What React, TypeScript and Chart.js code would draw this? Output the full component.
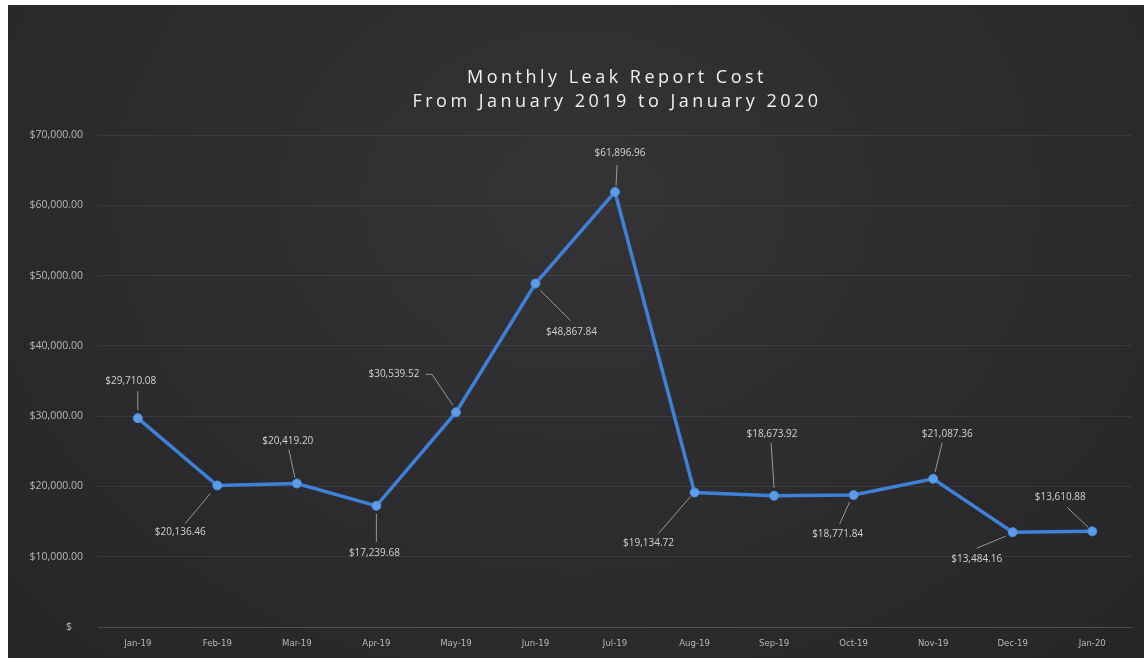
import React, { useEffect, useRef } from "react";
import { Chart, registerables } from "chart.js";

Chart.register(...registerables);

const categories = [
  "Jan-19", "Feb-19", "Mar-19", "Apr-19", "May-19", "Jun-19", "Jul-19",
  "Aug-19", "Sep-19", "Oct-19", "Nov-19", "Dec-19", "Jan-20",
];
const costs = [
  29710.08, 20136.46, 20419.2, 17239.68, 30539.52, 48867.84, 61896.96,
  19134.72, 18673.92, 18771.84, 21087.36, 13484.16, 13610.88,
];
const yMin = 0;
const yMax = 70000;
const yStep = 10000;
const titleLines = ["Monthly Leak Report Cost", "From January 2019 to January 2020"];

// layout of each data label: text centre offset and leader-line path, relative to the point
const labelLayout: { dx: number; dy: number; path: number[][] }[] = [
  { dx: -7, dy: -37, path: [[0, -8], [0, -27]] },
  { dx: -37, dy: 47, path: [[-7, 8], [-32, 38]] },
  { dx: -9, dy: -42, path: [[-2, -6], [-8, -34]] },
  { dx: -2, dy: 47, path: [[0, 8], [0, 36]] },
  { dx: -62, dy: -38, path: [[-3, -7], [-24, -38], [-30, -38]] },
  { dx: 36, dy: 49, path: [[5, 7], [35, 37]] },
  { dx: 5, dy: -39, path: [[1, -6], [2, -27]] },
  { dx: -46, dy: 51, path: [[-4, 4], [-36, 41]] },
  { dx: -2, dy: -62, path: [[0, -8], [-3, -53]] },
  { dx: -16, dy: 39, path: [[-4, 7], [-14, 29]] },
  { dx: 14, dy: -45, path: [[2, -7], [9, -36]] },
  { dx: -36, dy: 27, path: [[-7, 4], [-36, 16]] },
  { dx: -32, dy: -34, path: [[-4, -4], [-25, -24]] },
];

const money = (v: number) =>
  "$" + v.toLocaleString("en-US", { minimumFractionDigits: 2, maximumFractionDigits: 2 });

const labelPlugin = {
  id: "leaderLabels",
  afterDatasetsDraw(chart: any) {
    const ctx = chart.ctx;
    const meta = chart.getDatasetMeta(0);
    ctx.save();
    meta.data.forEach((pt: any, i: number) => {
      const lay = labelLayout[i];
      if (!lay) return;
      const x = pt.x;
      const y = pt.y;
      ctx.strokeStyle = "rgba(190,190,190,0.75)";
      ctx.lineWidth = 1;
      ctx.beginPath();
      lay.path.forEach((p, k) => {
        if (k === 0) ctx.moveTo(x + p[0], y + p[1]);
        else ctx.lineTo(x + p[0], y + p[1]);
      });
      ctx.stroke();
      ctx.fillStyle = "#d2d2d2";
      ctx.font = '10px "Open Sans", sans-serif';
      ctx.textAlign = "center";
      ctx.textBaseline = "middle";
      ctx.fillText(money(costs[i]), x + lay.dx, y + lay.dy);
    });
    ctx.restore();
  },
};

const titlePlugin = {
  id: "spacedTitle",
  afterDraw(chart: any) {
    const ctx = chart.ctx;
    const area = chart.chartArea;
    const cx = (area.left + area.right) / 2;
    ctx.save();
    ctx.fillStyle = "#f0f0f0";
    ctx.font = '18px "Open Sans", sans-serif';
    (ctx as any).letterSpacing = "3.5px";
    ctx.textAlign = "center";
    ctx.textBaseline = "middle";
    titleLines.forEach((t, i) => ctx.fillText(t, cx + 2, 73 + i * 24));
    ctx.restore();
  },
};

export default function App() {
  const ref = useRef<HTMLCanvasElement | null>(null);

  useEffect(() => {
    if (!ref.current) return;
    const chart = new Chart(ref.current, {
      type: "line",
      data: {
        labels: categories,
        datasets: [
          {
            label: "Cost",
            data: costs,
            borderColor: "#3f80d8",
            borderWidth: 3.5,
            pointRadius: 4.5,
            pointBackgroundColor: "#5c9ce8",
            pointBorderColor: "#4a8ee0",
            pointBorderWidth: 1,
            tension: 0,
          },
        ],
      },
      options: {
        animation: false,
        responsive: false,
        maintainAspectRatio: false,
        layout: { padding: { top: 130, right: 12, left: 0, bottom: 0 } },
        plugins: {
          legend: { display: false },
          title: { display: false },
          tooltip: { enabled: false },
        },
        scales: {
          x: {
            offset: true,
            grid: { display: false, drawTicks: false },
            border: { display: true, color: "rgba(255,255,255,0.12)", width: 1 },
            ticks: {
              color: "#b8b8b8",
              padding: 11,
              maxRotation: 0,
              font: { family: '"Liberation Sans Narrow", "DejaVu Sans Condensed", sans-serif', size: 9.5 },
            },
            afterFit: (s: any) => {
              s.height = 31;
            },
          },
          y: {
            min: yMin,
            max: yMax,
            ticks: {
              stepSize: yStep,
              color: "#b8b8b8",
              padding: 15,
              font: { family: '"Open Sans", sans-serif', size: 10.5 },
              callback: (v: any) => (Number(v) === 0 ? "$    " : money(Number(v))),
            },
            grid: { color: "rgba(255,255,255,0.07)", drawTicks: false },
            border: { display: false },
            afterFit: (s: any) => {
              s.width = 90;
            },
          },
        },
      },
      plugins: [labelPlugin, titlePlugin],
    });
    return () => chart.destroy();
  }, []);

  return (
    <div
      style={{
        position: "absolute",
        left: 8,
        top: 5,
        width: 1136,
        height: 653,
        background: "radial-gradient(ellipse at 50% 30%, #343436 0%, #2c2c2e 55%, #262628 100%)",
      }}
    >
      <canvas ref={ref} width={1136} height={653} style={{ display: "block" }} />
    </div>
  );
}
